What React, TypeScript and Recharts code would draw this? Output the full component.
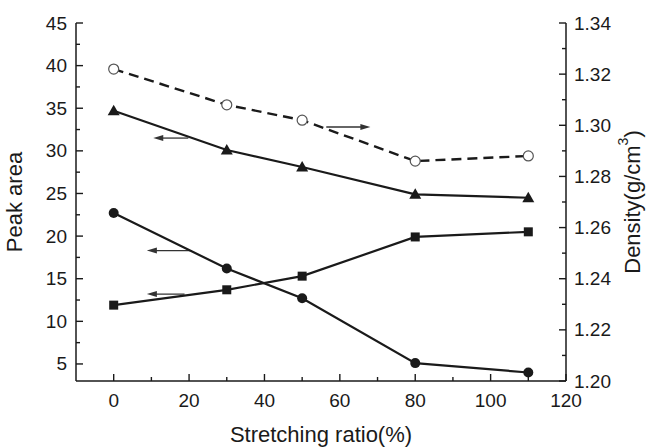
import { ComposedChart, Line, XAxis, YAxis, ReferenceLine, Label } from 'recharts';

const stretch = [0, 30, 50, 80, 110];
const triangleArea = [34.7, 30.1, 28.1, 24.9, 24.5];
const circleArea = [22.7, 16.2, 12.7, 5.1, 4.0];
const squareArea = [11.9, 13.7, 15.3, 19.9, 20.5];
const density = [1.322, 1.308, 1.302, 1.286, 1.288];

const xTicks = [0, 10, 20, 30, 40, 50, 60, 70, 80, 90, 100, 110, 120];
const leftTicks = [5, 7.5, 10, 12.5, 15, 17.5, 20, 22.5, 25, 27.5, 30, 32.5, 35, 37.5, 40, 42.5, 45];
const rightTicks = [1.2, 1.21, 1.22, 1.23, 1.24, 1.25, 1.26, 1.27, 1.28, 1.29, 1.3, 1.31, 1.32, 1.33, 1.34];

// annotation arrows: [head x, tail x, y on peak-area scale]
const arrows = [
  [10.5, 19.8, 31.5],
  [68.1, 56.4, 32.8],
  [8.8, 20.7, 18.3],
  [8.8, 18.8, 13.2],
];

const data = stretch.map((s, i) => ({
  s,
  tri: triangleArea[i],
  circ: circleArea[i],
  sq: squareArea[i],
  dens: density[i],
}));

const INK = '#1a1a1a';
const FONT = '"Liberation Sans", Arial, sans-serif';
const TICK_FS = 19;
const TITLE_FS = 22;

const isMajor = (v: number, step: number) => Math.abs(v / step - Math.round(v / step)) < 1e-6;

const BottomTick = (p: any) => {
  const v = p.payload.value;
  const major = isMajor(v, 20);
  const x = Number(p.x);
  const y = Number(p.y);
  return (
    <g>
      <path d={`M${x},${y}V${y - (major ? 7 : 4)}`} stroke={INK} strokeWidth={1.4} fill="none" />
      {major && (
        <text x={x} y={y + 19} textAnchor="middle" dominantBaseline="central" fontSize={TICK_FS} fontFamily={FONT} fill={INK}>
          {v}
        </text>
      )}
    </g>
  );
};

const TopTick = (p: any) => {
  const major = isMajor(p.payload.value, 20);
  const x = Number(p.x);
  const y = Number(p.y);
  return <path d={`M${x},${y}V${y + (major ? 7 : 4)}`} stroke={INK} strokeWidth={1.4} fill="none" />;
};

const LeftTick = (p: any) => {
  const v = p.payload.value;
  const major = isMajor(v, 5);
  const x = Number(p.x);
  const y = Number(p.y);
  return (
    <g>
      <path d={`M${x},${y}H${x + (major ? 7 : 4)}`} stroke={INK} strokeWidth={1.4} fill="none" />
      {major && (
        <text x={x - 9} y={y} textAnchor="end" dominantBaseline="central" fontSize={TICK_FS} fontFamily={FONT} fill={INK}>
          {v}
        </text>
      )}
    </g>
  );
};

const RightTick = (p: any) => {
  const v = p.payload.value;
  const major = isMajor(v, 0.02);
  const x = Number(p.x);
  const y = Number(p.y);
  return (
    <g>
      <path d={`M${x},${y}H${x - (major ? 7 : 4)}`} stroke={INK} strokeWidth={1.4} fill="none" />
      {major && (
        <text x={x + 8} y={y} textAnchor="start" dominantBaseline="central" fontSize={TICK_FS} fontFamily={FONT} fill={INK}>
          {v.toFixed(2)}
        </text>
      )}
    </g>
  );
};

const TriDot = (p: any) => (
  <polygon key={p.index} points={`${p.cx},${p.cy - 6} ${p.cx - 6},${p.cy + 4.5} ${p.cx + 6},${p.cy + 4.5}`} fill={INK} />
);
const CircDot = (p: any) => <circle key={p.index} cx={p.cx} cy={p.cy} r={5} fill={INK} />;
const SqDot = (p: any) => <rect key={p.index} x={p.cx - 4.5} y={p.cy - 4.5} width={9} height={9} fill={INK} />;
const OpenDot = (p: any) => <circle key={p.index} cx={p.cx} cy={p.cy} r={5} fill="#fff" stroke="#555" strokeWidth={1.2} />;

const Arrow = (p: any) => {
  const { x1, y1, x2, y2 } = p;
  const dir = x2 > x1 ? 1 : -1;
  return (
    <g>
      <path d={`M${x1 + dir * 6},${y1}L${x2},${y2}`} stroke="#333" strokeWidth={1.3} fill="none" />
      <path d={`M${x1},${y1}L${x1 + dir * 10},${y1 - 3}L${x1 + dir * 10},${y1 + 3}Z`} fill="#333" />
    </g>
  );
};

const DensityTitle = (p: any) => {
  const vb = p.viewBox;
  const x = vb.x + vb.width - 20;
  const y = vb.y + vb.height / 2;
  return (
    <text x={x} y={y} transform={`rotate(-90, ${x}, ${y})`} textAnchor="middle" dominantBaseline="central" fontSize={TITLE_FS} fontFamily={FONT} fill={INK}>
      Density(g/cm
      <tspan dy={-9} fontSize={14}>3</tspan>
      <tspan dy={9}>)</tspan>
    </text>
  );
};

export default function App() {
  return (
    <div style={{ position: 'absolute', left: 0, top: 0, background: '#fff' }}>
      <ComposedChart width={652} height={448} data={data} margin={{ top: 23, right: 0, bottom: 0, left: 0 }}>
        <XAxis
          xAxisId="b"
          dataKey="s"
          type="number"
          domain={[-10, 120]}
          ticks={xTicks}
          interval={0}
          height={67}
          tickSize={0}
          tickMargin={0}
          tickLine={false}
          tick={BottomTick}
          axisLine={{ stroke: INK, strokeWidth: 1.5 }}
        >
          <Label value="Stretching ratio(%)" position="insideBottom" offset={6} fontSize={TITLE_FS} fontFamily={FONT} fill={INK} />
        </XAxis>
        <XAxis
          xAxisId="t"
          orientation="top"
          dataKey="s"
          type="number"
          domain={[-10, 120]}
          ticks={xTicks}
          interval={0}
          height={0}
          tickSize={0}
          tickMargin={0}
          tickLine={false}
          tick={TopTick}
          axisLine={{ stroke: INK, strokeWidth: 1.5 }}
        />
        <YAxis
          yAxisId="left"
          type="number"
          domain={[3, 45]}
          ticks={leftTicks}
          interval={0}
          width={76}
          tickSize={0}
          tickMargin={0}
          tickLine={false}
          tick={LeftTick}
          axisLine={{ stroke: INK, strokeWidth: 1.5 }}
        >
          <Label value="Peak area" angle={-90} position="insideLeft" offset={14} style={{ textAnchor: 'middle' }} fontSize={TITLE_FS} fontFamily={FONT} fill={INK} />
        </YAxis>
        <YAxis
          yAxisId="right"
          orientation="right"
          type="number"
          domain={[1.2, 1.34]}
          ticks={rightTicks}
          interval={0}
          width={86}
          tickSize={0}
          tickMargin={0}
          tickLine={false}
          tick={RightTick}
          axisLine={{ stroke: INK, strokeWidth: 1.5 }}
        >
          <Label content={DensityTitle} />
        </YAxis>

        {arrows.map((a, i) => (
          <ReferenceLine
            key={i}
            xAxisId="b"
            yAxisId="left"
            segment={[{ x: a[0], y: a[2] }, { x: a[1], y: a[2] }]}
            shape={Arrow}
          />
        ))}

        <Line xAxisId="b" yAxisId="left" dataKey="tri" stroke={INK} strokeWidth={2.2} dot={TriDot} isAnimationActive={false} />
        <Line xAxisId="b" yAxisId="left" dataKey="circ" stroke={INK} strokeWidth={2.2} dot={CircDot} isAnimationActive={false} />
        <Line xAxisId="b" yAxisId="left" dataKey="sq" stroke={INK} strokeWidth={2.2} dot={SqDot} isAnimationActive={false} />
        <Line xAxisId="b" yAxisId="right" dataKey="dens" stroke={INK} strokeWidth={2.4} strokeDasharray="10 6" dot={OpenDot} isAnimationActive={false} />
      </ComposedChart>
    </div>
  );
}
